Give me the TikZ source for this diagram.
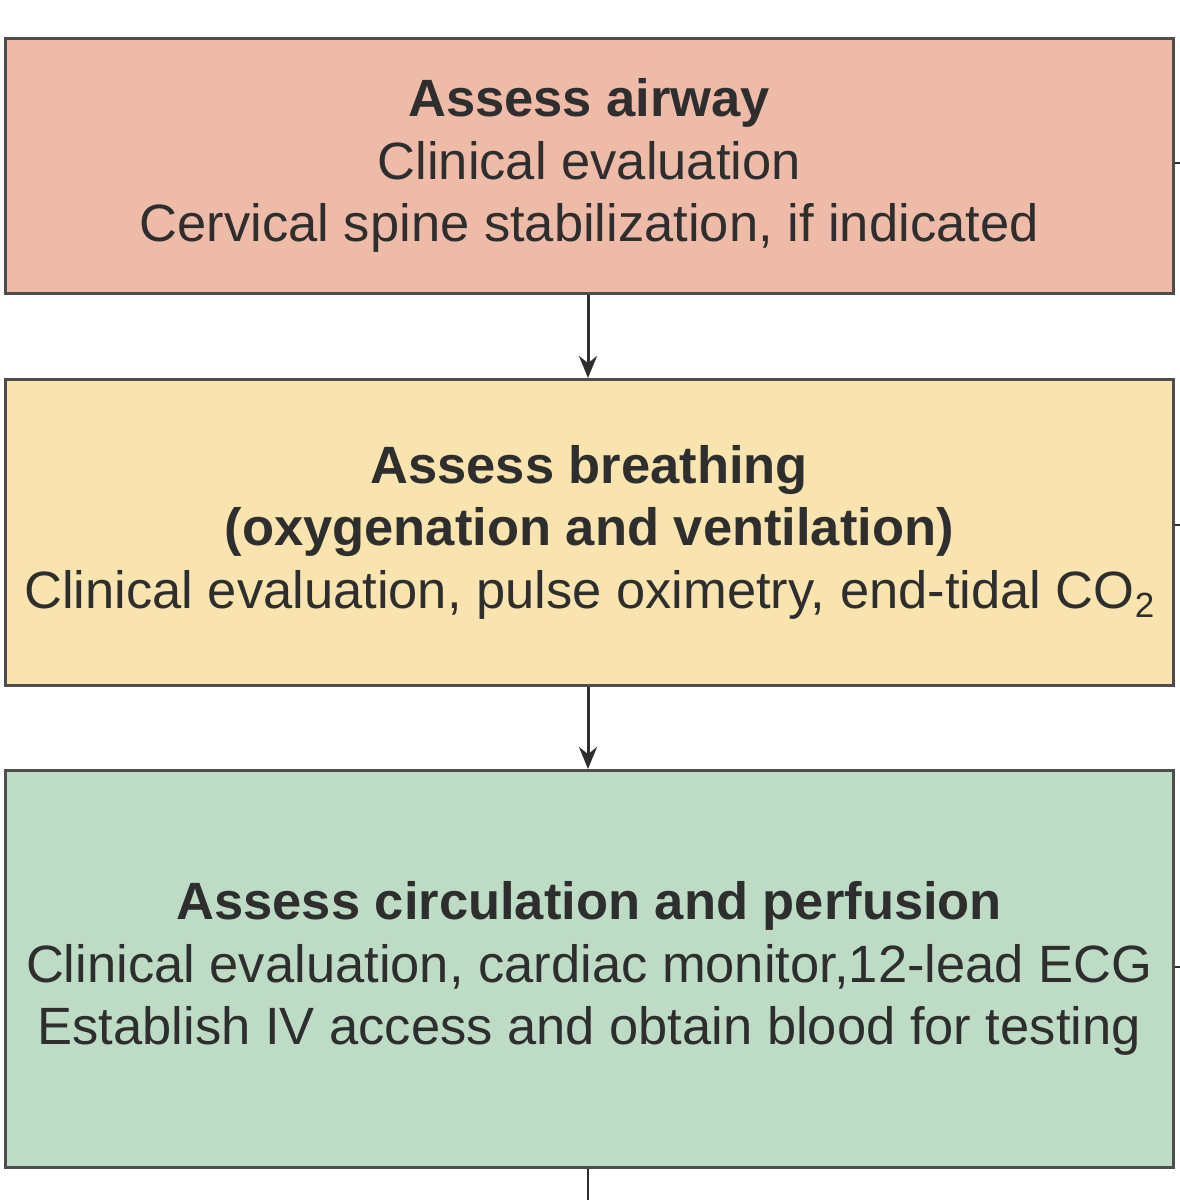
\documentclass[tikz,border=0pt]{standalone}
\usepackage{fontspec}
\setmainfont{Liberation Sans}
\usetikzlibrary{arrows.meta}
\definecolor{cA}{HTML}{EDBBA8}
\definecolor{cB}{HTML}{F9E3AF}
\definecolor{cC}{HTML}{BEDCC5}
\definecolor{tx}{HTML}{2E2E2E}
\tikzset{box/.style={draw=tx!85,line width=2.5pt,minimum width=1168pt,inner sep=0pt,anchor=north west,align=center,text=tx,font=\fontsize{52.5}{62.5}\selectfont},
arr/.style={draw=tx,line width=3pt,-{Stealth[length=22pt,width=18pt]}},
stub/.style={draw=tx,line width=2.5pt}}
\begin{document}
\begin{tikzpicture}[x=1pt,y=-1pt]
\useasboundingbox[fill=white] (0,0) rectangle (1180,1200);
\node[box,fill=cA,minimum height=255pt] (a) at (4,37) {\textbf{Assess airway}\\Clinical evaluation\\Cervical spine stabilization, if indicated};
\node[box,fill=cB,minimum height=306pt] (b) at (4,378) {\textbf{Assess breathing}\\\textbf{(oxygenation and ventilation)}\\Clinical evaluation, pulse oximetry, end-tidal CO\raisebox{-9pt}{\fontsize{35}{35}\selectfont 2}};
\node[box,fill=cC,minimum height=397pt] (c) at (4,769) {\textbf{Assess circulation and perfusion}\\Clinical evaluation, cardiac monitor,12-lead ECG\\Establish IV access and obtain blood for testing};
\draw[arr] (a.south -| 588,0) -- (b.north -| 588,0);
\draw[arr] (b.south -| 588,0) -- (c.north -| 588,0);
\coordinate (e) at (588,1200);
\draw[stub] (c.south -| 588,0) -- (e);
\coordinate (s1) at (1180,163);\coordinate (s2) at (1180,525);\coordinate (s3) at (1180,967);
\draw[stub] (a.east |- s1) -- (s1);
\draw[stub] (b.east |- s2) -- (s2);
\draw[stub] (c.east |- s3) -- (s3);
\end{tikzpicture}
\end{document}
